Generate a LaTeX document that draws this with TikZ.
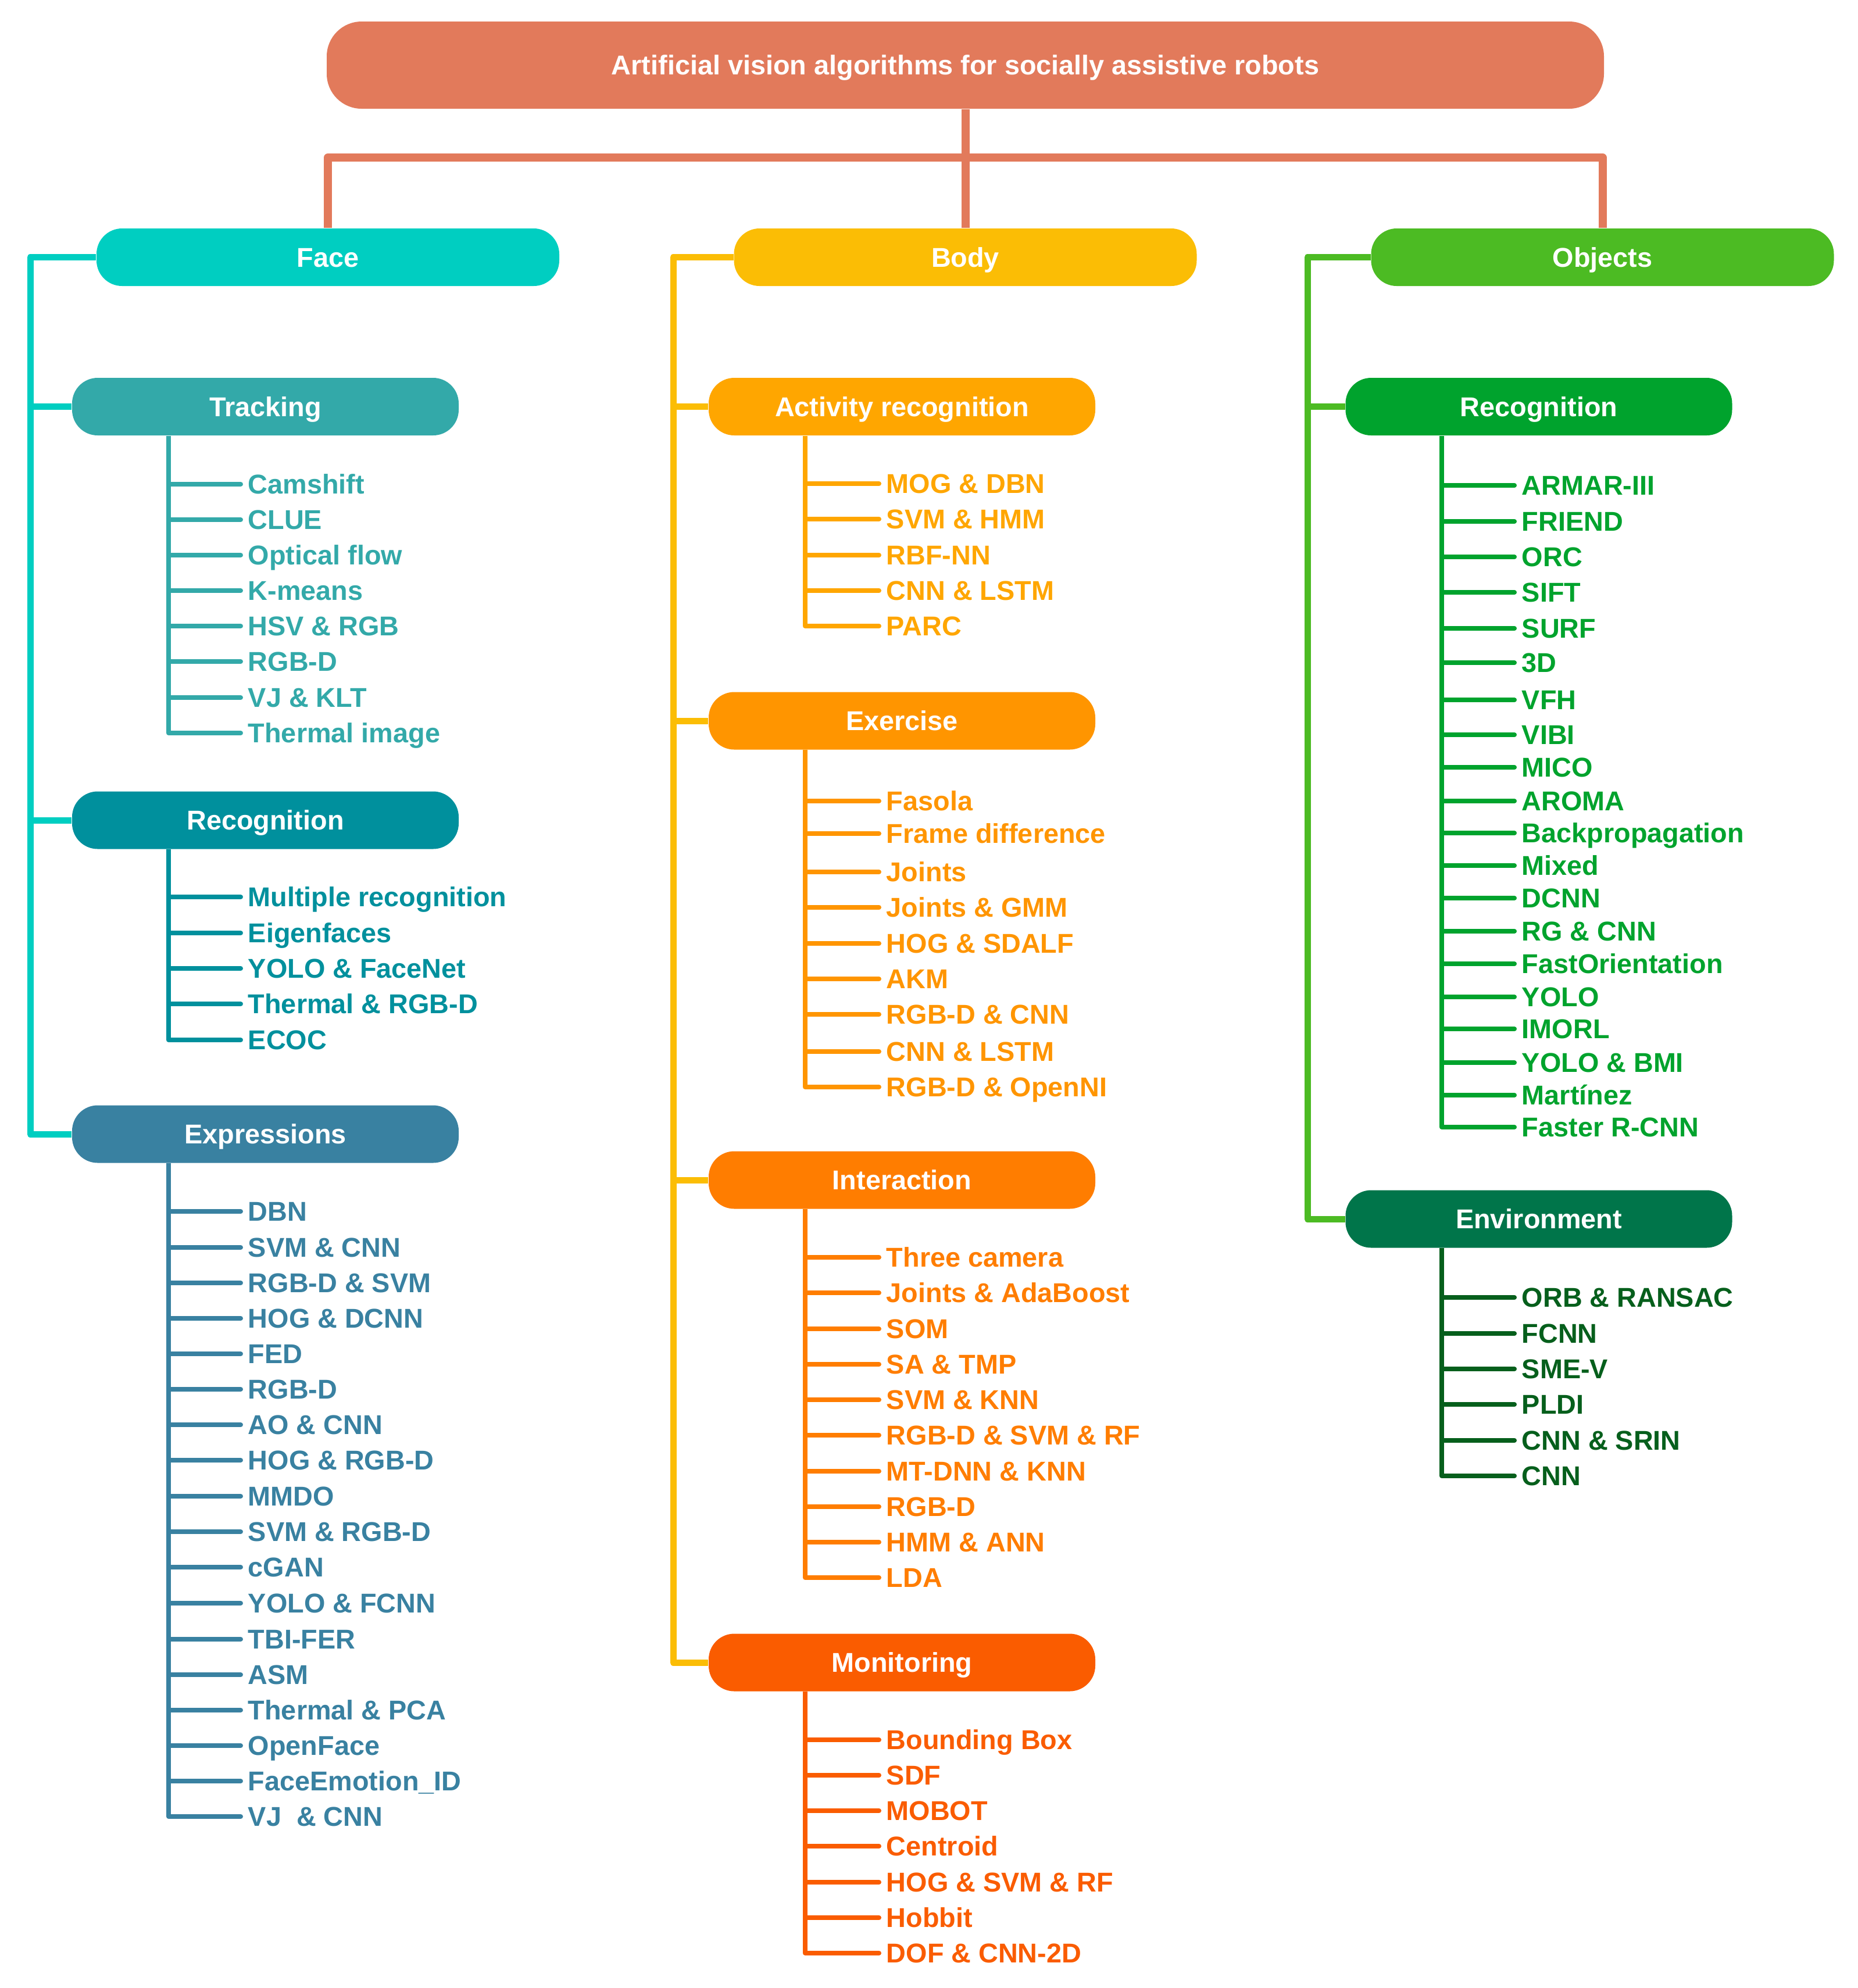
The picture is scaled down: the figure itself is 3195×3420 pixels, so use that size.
\documentclass[tikz,border=0pt]{standalone}
\usepackage{fontspec}
\setmainfont{Liberation Sans}
\definecolor{rootc}{HTML}{E27A5B}
\definecolor{facec}{HTML}{00CEC1}
\definecolor{bodyc}{HTML}{FBBD05}
\definecolor{objc}{HTML}{4CBB23}
\definecolor{trkc}{HTML}{33A9A9}
\definecolor{frecc}{HTML}{00909D}
\definecolor{exprc}{HTML}{3981A1}
\definecolor{actc}{HTML}{FFA600}
\definecolor{exerc}{HTML}{FF9500}
\definecolor{interc}{HTML}{FF7D00}
\definecolor{monc}{HTML}{FA5C00}
\definecolor{orecc}{HTML}{00A32D}
\definecolor{envc}{HTML}{00754A}
\definecolor{envleaf}{HTML}{065F1C}
\newcommand\leafgroup[5]{%
  \coordinate (#1v) at (#3,0);
  \foreach \yy/\lbl [count=\i] in {#5} {
    \node[leaf, text=#2] (#1-\i) at (#4+12,\yy) {\lbl};
    \draw[leafline, #2] (#1v |- #1-\i.west) -- ([xshift=-3pt]#1-\i.west);
    \xdef\lastleaf{\i}
  }
  \draw[stem, #2] (#1.south -| #1v) -- (#1v |- #1-\lastleaf.west);
}
\begin{document}
\begin{tikzpicture}[x=0.25pt,y=-0.25pt,
  every node/.style={font=\fontsize{11.7}{13}\selectfont\bfseries},
  box/.style={rectangle, rounded corners=11pt, minimum height=24.75pt, inner sep=0pt, text=white, minimum width=166.25pt, text height=8.4pt, text depth=0pt},
  topbox/.style={box, minimum width=199pt},
  leaf/.style={anchor=west, inner sep=0pt, text height=8.4pt, text depth=0pt},
  leafline/.style={line width=2pt, line cap=round},
  stem/.style={line width=1.8pt},
  trunk/.style={line width=2.75pt, line join=round},
  rootline/.style={line width=3.5pt, draw=rootc, line join=round}]
\useasboundingbox (0,0) rectangle (3195,3420);

% root and first level
\node[box, fill=rootc, minimum width=549.25pt, minimum height=37.5pt, rounded corners=15pt] (root) at (1660.5,112) {Artificial vision algorithms for socially assistive robots};
\node[topbox, fill=facec] (face) at (564,442.5) {Face};
\node[topbox, fill=bodyc] (body) at (1660.5,442.5) {Body};
\node[topbox, fill=objc] (obj) at (2756.5,442.5) {Objects};
\coordinate (bar) at (1660.5,271);
\draw[rootline] (root.south) -- (bar);
\draw[rootline] (face.north) |- (bar) -| (obj.north);
\draw[rootline] (bar) -- (body.north);

% second level
\node[box, fill=trkc] (trk) at (456.5,699.5) {Tracking};
\node[box, fill=frecc] (frec) at (456.5,1411) {Recognition};
\node[box, fill=exprc] (expr) at (456.5,1951) {Expressions};
\node[box, fill=actc] (act) at (1551.5,699.5) {Activity recognition};
\node[box, fill=exerc] (exer) at (1551.5,1240) {Exercise};
\node[box, fill=interc] (inter) at (1551.5,2030) {Interaction};
\node[box, fill=monc] (mon) at (1551.5,2860) {Monitoring};
\node[box, fill=orecc] (orec) at (2647,699.5) {Recognition};
\node[box, fill=envc] (env) at (2647,2097) {Environment};

% trunks
\coordinate (facev) at (52,0);
\draw[trunk, facec] (face.west) -- (face.west -| facev) -- (expr.west -| facev) -- (expr.west);
\draw[trunk, facec] (trk.west -| facev) -- (trk.west);
\draw[trunk, facec] (frec.west -| facev) -- (frec.west);
\coordinate (bodyv) at (1158,0);
\draw[trunk, bodyc] (body.west) -- (body.west -| bodyv) -- (mon.west -| bodyv) -- (mon.west);
\draw[trunk, bodyc] (act.west -| bodyv) -- (act.west);
\draw[trunk, bodyc] (exer.west -| bodyv) -- (exer.west);
\draw[trunk, bodyc] (inter.west -| bodyv) -- (inter.west);
\coordinate (objv) at (2249,0);
\draw[trunk, objc] (obj.west) -- (obj.west -| objv) -- (env.west -| objv) -- (env.west);
\draw[trunk, objc] (orec.west -| objv) -- (orec.west);

% leaves
\leafgroup{trk}{trkc}{290}{414}{833/Camshift, 894/CLUE, 955/Optical flow, 1016/K-means, 1077/HSV \& RGB, 1138/RGB-D, 1200/VJ \& KLT, 1261/Thermal image}
\leafgroup{frec}{frecc}{290}{414}{1543/Multiple recognition, 1605/Eigenfaces, 1666/YOLO \& FaceNet, 1727/Thermal \& RGB-D, 1789/ECOC}
\leafgroup{expr}{exprc}{290}{414}{2084/DBN, 2146/SVM \& CNN, 2207/RGB-D \& SVM, 2268/HOG \& DCNN, 2329/FED, 2390/RGB-D, 2451/AO \& CNN, 2512/HOG \& RGB-D, 2574/MMDO, 2635/SVM \& RGB-D, 2696/cGAN, 2758/YOLO \& FCNN, 2820/TBI-FER, 2881/ASM, 2942/Thermal \& PCA, 3003/OpenFace, 3064/FaceEmotion\_ID, 3125/VJ\ \ \& CNN}
\leafgroup{act}{actc}{1385}{1512}{832/MOG \& DBN, 893/SVM \& HMM, 955/RBF-NN, 1016/CNN \& LSTM, 1077/PARC}
\leafgroup{exer}{exerc}{1385}{1512}{1378/Fasola, 1434/Frame difference, 1500/Joints, 1561/Joints \& GMM, 1623/HOG \& SDALF, 1684/AKM, 1745/RGB-D \& CNN, 1809/CNN \& LSTM, 1870/RGB-D \& OpenNI}
\leafgroup{inter}{interc}{1385}{1512}{2163/Three camera, 2224/Joints \& AdaBoost, 2286/SOM, 2347/SA \& TMP, 2408/SVM \& KNN, 2469/RGB-D \& SVM \& RF, 2531/MT-DNN \& KNN, 2592/RGB-D, 2653/HMM \& ANN, 2714/LDA}
\leafgroup{mon}{monc}{1385}{1512}{2993/Bounding Box, 3054/SDF, 3115/MOBOT, 3176/Centroid, 3238/HOG \& SVM \& RF, 3299/Hobbit, 3360/DOF \& CNN-2D}
\leafgroup{orec}{orecc}{2480}{2605}{835/ARMAR-III, 897/FRIEND, 958/ORC, 1019/SIFT, 1081/SURF, 1140/3D, 1204/VFH, 1264/VIBI, 1320/MICO, 1378/AROMA, 1433/Backpropagation, 1489/Mixed, 1545/DCNN, 1602/RG \& CNN, 1658/FastOrientation, 1715/YOLO, 1770/IMORL, 1828/YOLO \& BMI, 1884/Martínez, 1939/Faster R-CNN}
\leafgroup{env}{envleaf}{2480}{2605}{2232/ORB \& RANSAC, 2294/FCNN, 2355/SME-V, 2416/PLDI, 2478/CNN \& SRIN, 2539/CNN}
\end{tikzpicture}
\end{document}
